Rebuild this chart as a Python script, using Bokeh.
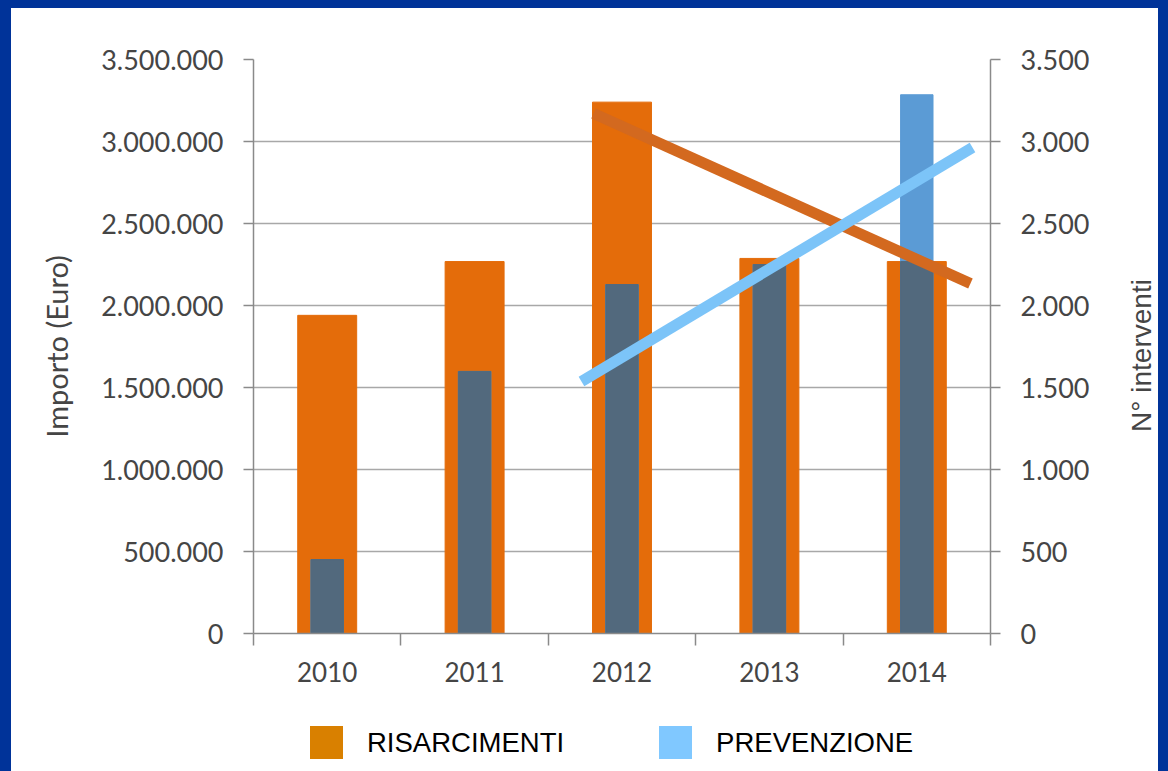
import re
import math
import numpy as np
from bokeh.plotting import figure
from bokeh.layouts import column, row
from bokeh.models import Range1d, LinearAxis, FixedTicker, Grid, Div
from bokeh.core.properties import value
from bokeh.embed import file_html
from bokeh.resources import INLINE

# ---------------- data ----------------
years = ["2010", "2011", "2012", "2013", "2014"]
risarcimenti = [1940000, 2268000, 3240000, 2287000, 2268000]   # Importo (Euro)
prevenzione = [451, 1598, 2128, 2250, 3285]                      # N° interventi
y_left_ticks = [0, 500000, 1000000, 1500000, 2000000, 2500000, 3000000, 3500000]
y_right_ticks = [0, 500, 1000, 1500, 2000, 2500, 3000, 3500]
# trend lines (x in category-slot units, slot i spans i..i+1)
trend_risarcimenti_x = [2.307, 4.864]
trend_risarcimenti_y = [3171000, 2134000]
trend_prevenzione_x = [2.225, 4.878]
trend_prevenzione_y = [1537, 2963]
legend_labels = ["RISARCIMENTI", "PREVENZIONE"]
legend_colors = ["#D98000", "#80C8FF"]
left_axis_label = "Importo (Euro)"
right_axis_label = "N° interventi"


def it_fmt(v):
    return f"{v:,}".replace(",", ".")


xpos = [i + 0.5 for i in range(len(years))]
prev_low = list(np.minimum(np.array(prevenzione, dtype=float),
                           np.array(risarcimenti, dtype=float) / 1000.0))

AX = "#8a8a8a"
LBL = "#454545"

p = figure(width=1101, height=705, x_range=Range1d(0, 5), y_range=Range1d(0, 3500000),
           output_backend="svg", toolbar_location=None,
           min_border_left=242, min_border_right=122, min_border_top=51, min_border_bottom=80,
           background_fill_color="white", border_fill_color="white",
           outline_line_color=None, x_axis_type=None, y_axis_type=None)
p.extra_y_ranges = {"right": Range1d(0, 3500)}

# axes
yl = LinearAxis(ticker=FixedTicker(ticks=y_left_ticks),
                major_label_overrides={v: it_fmt(v) for v in y_left_ticks},
                axis_label=left_axis_label)
yr = LinearAxis(y_range_name="right", ticker=FixedTicker(ticks=y_right_ticks),
                major_label_overrides={v: it_fmt(v) for v in y_right_ticks})
xa = LinearAxis(ticker=FixedTicker(ticks=xpos, minor_ticks=list(range(len(years) + 1))),
                major_label_overrides={float(x): y for x, y in zip(xpos, years)})

for ax in (yl, yr):
    ax.axis_line_color = AX
    ax.axis_line_width = 1.5
    ax.major_tick_line_color = AX
    ax.major_tick_line_width = 1.5
    ax.major_tick_out = 10
    ax.major_tick_in = 0
    ax.minor_tick_line_color = None
    ax.major_label_text_font = "Lato"
    ax.major_label_text_font_size = "27px"
    ax.major_label_text_color = LBL
    ax.major_label_standoff = 20
yl.axis_label_text_font_style = "normal"
yl.axis_label_text_color = LBL
yl.axis_label_text_font = "Lato"
yl.axis_label_text_font_size = "29px"
yl.axis_label_standoff = 24

xa.axis_line_color = AX
xa.axis_line_width = 1.5
xa.major_tick_line_color = None
xa.major_tick_out = 0
xa.major_tick_in = 0
xa.minor_tick_line_color = AX
xa.minor_tick_line_width = 1.5
xa.minor_tick_out = 12
xa.minor_tick_in = 0
xa.major_label_text_font = "Lato"
xa.major_label_text_font_size = "26px"
xa.major_label_text_color = LBL
xa.major_label_standoff = 16

p.add_layout(yl, "left")
p.add_layout(yr, "right")
p.add_layout(xa, "below")
p.add_layout(Grid(dimension=1, ticker=yl.ticker, grid_line_color="#a8a8a8", grid_line_width=1.5))

# bars
p.vbar(x=xpos, top=risarcimenti, width=0.40, fill_color="#E46C0A", line_color="#E46C0A")
p.vbar(x=xpos, top=prevenzione, width=0.22, fill_color="#5B9BD5", line_color="#5B9BD5",
       y_range_name="right")
p.vbar(x=xpos, top=prev_low, width=0.22, fill_color="#52697D", line_color="#52697D",
       y_range_name="right")

# trend lines
p.line(trend_risarcimenti_x, trend_risarcimenti_y, line_color="#D3691F", line_width=11,
       line_cap="butt")
p.line(trend_prevenzione_x, trend_prevenzione_y, line_color="#7CC4F8", line_width=11,
       line_cap="butt", y_range_name="right")

# right axis title (reads bottom-to-top), in a narrow strip beside the chart
rfig = figure(width=46, height=705, x_range=Range1d(0, 1), y_range=Range1d(0, 1),
              output_backend="svg", toolbar_location=None, min_border=0,
              x_axis_type=None, y_axis_type=None, outline_line_color=None,
              background_fill_color="white", border_fill_color="white")
rfig.text(x=[0.5], y=[0.5], text=[right_axis_label], angle=math.pi / 2,
          text_align="center", text_baseline="middle", x_offset=6, y_offset=9,
          text_font=value("Liberation Sans"), text_font_size="28px", text_color=LBL)

# legend strip
parts = []
for i, (lab, colr) in enumerate(zip(legend_labels, legend_colors)):
    gap = "0px" if i == len(legend_labels) - 1 else "95px"
    parts.append(
        f'<span style="display:inline-block;width:33px;height:33px;background:{colr};'
        f'flex:none"></span>'
        f'<span style="margin-left:24px;margin-right:{gap};font-family:\'Liberation Sans\';'
        f'font-size:27.5px;color:#000;line-height:33px;white-space:nowrap">{lab}</span>')
legend_html = (
    '<div style="display:flex;align-items:center;box-sizing:border-box;width:1147px;'
    'height:58px;padding-left:299px;padding-top:13px;padding-bottom:12px;background:#fff">'
    + "".join(parts) + "</div>")
ldiv = Div(text=legend_html, width=1147, height=58, margin=(0, 0, 0, 0),
           styles={"background-color": "white"})

root = column(row(p, rfig, spacing=0), ldiv, spacing=0,
              styles={"background-color": "white", "border-style": "solid",
                      "border-color": "#003399", "border-width": "8px 10px 0px 11px"})

html = file_html(root, INLINE)
html = re.sub(r"<body[^>]*>", '<body style="margin:0">', html, count=1)
open("out.html", "w").write(html)
